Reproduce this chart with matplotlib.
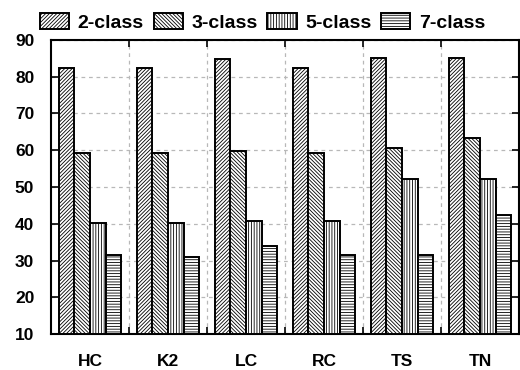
import matplotlib
matplotlib.use("Agg")
import matplotlib.pyplot as plt
import numpy as np

categories = ["HC", "K2", "LC", "RC", "TS", "TN"]
series_names = ["2-class", "3-class", "5-class", "7-class"]
v2 = [82.3, 82.3, 84.7, 82.3, 85.0, 85.0]
v3 = [59.3, 59.2, 59.8, 59.3, 60.6, 63.4]
v5 = [40.3, 40.3, 40.7, 40.7, 52.2, 52.2]
v7 = [31.5, 31.0, 34.0, 31.5, 31.5, 42.4]
series = [v2, v3, v5, v7]
hatches = ["/" * 9, "\\" * 9, "|" * 6, "-" * 6]
yticks = [10, 20, 30, 40, 50, 60, 70, 80, 90]

plt.rcParams['font.family'] = ['Liberation Sans', 'DejaVu Sans']
plt.rcParams['font.weight'] = 'bold'
plt.rcParams['hatch.linewidth'] = 0.6

fig = plt.figure(figsize=(5.2, 3.7), dpi=100)
ax = fig.add_axes([0.098, 0.097, 0.900, 0.795])

x = np.arange(len(categories))
w = 0.2
handles = []
for i, (vals, h, name) in enumerate(zip(series, hatches, series_names)):
    b = ax.bar(x + (i - 1.5) * w, np.array(vals) - 10, width=w, bottom=10,
               facecolor='white', edgecolor='black', hatch=h, linewidth=1.4,
               label=name, zorder=3)
    handles.append(b)

ax.set_xlim(-0.5, len(categories) - 0.5)
ax.set_ylim(10, 90)
ax.set_yticks(yticks)
ax.set_xticks(x)
ax.set_xticklabels(categories)
ax.set_xticks(x[:-1] + 0.5, minor=True)

ax.tick_params(axis='y', which='major', direction='in', length=5, width=1.2,
               right=True, labelsize=12.5, pad=12)
ax.tick_params(axis='x', which='major', length=0, labelsize=12.5, pad=14)
ax.tick_params(axis='x', which='minor', direction='in', length=5, width=1.2,
               top=True, bottom=True)

ax.grid(True, axis='y', which='major', linestyle=(0, (3, 3)), color='#b8b8b8', linewidth=0.9, zorder=0)
ax.grid(True, axis='x', which='minor', linestyle=(0, (3, 3)), color='#b8b8b8', linewidth=0.9, zorder=0)
for s in ax.spines.values():
    s.set_linewidth(1.5)
ax.set_axisbelow(True)

fig.legend(handles=handles, labels=series_names, loc='center', bbox_to_anchor=(0.505, 0.94),
           ncol=4, frameon=False, fontsize=14, handlelength=1.5, handleheight=0.95,
           handletextpad=0.45, columnspacing=0.5, borderaxespad=0, borderpad=0)

fig.savefig("out.png", dpi=100)
